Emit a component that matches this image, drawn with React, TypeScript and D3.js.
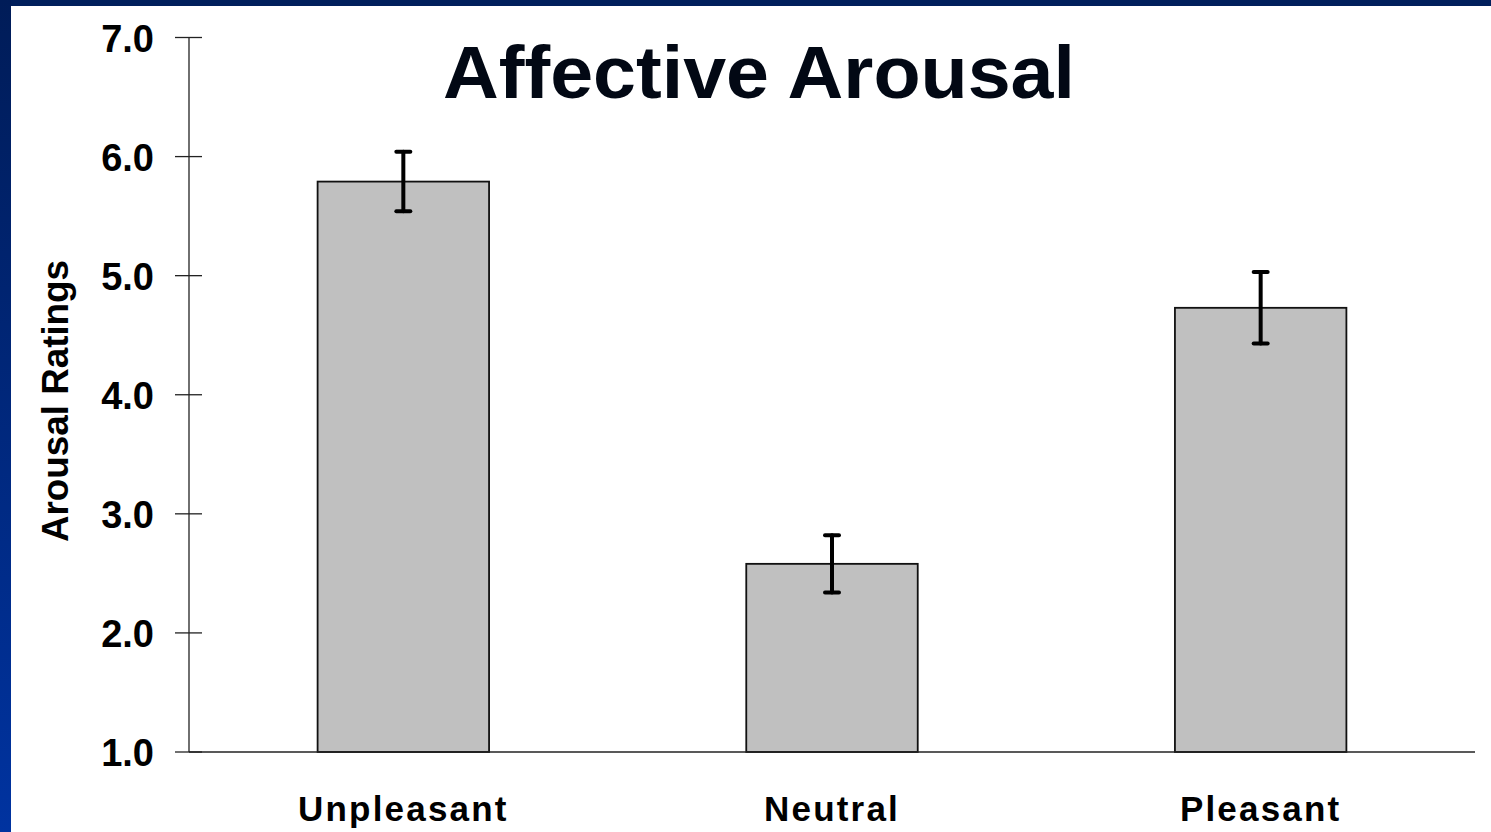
import React, { useEffect, useRef } from 'react';
import * as d3 from 'd3';

const categories = ['Unpleasant', 'Neutral', 'Pleasant'];
const means = [5.79, 2.58, 4.73];
const errors = [0.25, 0.24, 0.30];
const yTicks = [1, 2, 3, 4, 5, 6, 7];

export default function App() {
    const ref = useRef<SVGSVGElement>(null);

    useEffect(() => {
        document.body.style.margin = '0';
        const W = 1491, H = 832;
        const svg = d3.select(ref.current);
        svg.selectAll('*').remove();

        // background + blue frame
        const defs = svg.append('defs');
        const grad = defs.append('linearGradient')
            .attr('id', 'frameGrad').attr('x1', 0).attr('y1', 0).attr('x2', 0).attr('y2', 1);
        grad.append('stop').attr('offset', '0%').attr('stop-color', '#001c58');
        grad.append('stop').attr('offset', '100%').attr('stop-color', '#0033a0');

        svg.append('rect').attr('width', W).attr('height', H).attr('fill', '#ffffff');
        svg.append('rect').attr('x', 0).attr('y', 0).attr('width', W).attr('height', 6).attr('fill', '#001f5c');
        svg.append('rect').attr('x', 0).attr('y', 0).attr('width', 11).attr('height', H).attr('fill', 'url(#frameGrad)');

        const margin = { left: 189, right: 16, top: 37.5, bottom: 80 };
        const x = d3.scaleBand().domain(categories).range([margin.left, W - margin.right]).padding(0);
        const y = d3.scaleLinear().domain([1, 7]).range([H - margin.bottom, margin.top]);
        const barW = x.bandwidth() * 0.4;

        // title
        svg.append('text')
            .attr('x', 759).attr('y', 98)
            .attr('text-anchor', 'middle')
            .attr('font-family', 'Liberation Sans, Arial, sans-serif')
            .attr('font-weight', 'bold')
            .attr('font-size', 75)
            .attr('fill', '#020814')
            .attr('textLength', 632)
            .attr('lengthAdjust', 'spacingAndGlyphs')
            .text('Affective Arousal');

        // bars
        svg.selectAll('.bar')
            .data(means)
            .enter()
            .append('rect')
            .attr('class', 'bar')
            .attr('x', (d, i) => x(categories[i])! + x.bandwidth() / 2 - barW / 2)
            .attr('y', d => y(d))
            .attr('width', barW)
            .attr('height', d => y(1) - y(d))
            .attr('fill', '#c0c0c0')
            .attr('stroke', '#111')
            .attr('stroke-width', 1.8);

        // error bars
        const eb = svg.selectAll('.err')
            .data(means)
            .enter()
            .append('g')
            .attr('class', 'err')
            .attr('stroke', '#000')
            .attr('stroke-width', 4)
            .attr('stroke-linecap', 'round');
        eb.append('line')
            .attr('x1', (d, i) => x(categories[i])! + x.bandwidth() / 2)
            .attr('x2', (d, i) => x(categories[i])! + x.bandwidth() / 2)
            .attr('y1', (d, i) => y(d + errors[i]))
            .attr('y2', (d, i) => y(d - errors[i]));
        [1, -1].forEach(s => {
            eb.append('line')
                .attr('x1', (d, i) => x(categories[i])! + x.bandwidth() / 2 - 7)
                .attr('x2', (d, i) => x(categories[i])! + x.bandwidth() / 2 + 7)
                .attr('y1', (d, i) => y(d + s * errors[i]))
                .attr('y2', (d, i) => y(d + s * errors[i]));
        });

        // axes
        const axisCol = '#222';
        svg.append('line')
            .attr('x1', margin.left).attr('x2', margin.left)
            .attr('y1', y(7)).attr('y2', y(1))
            .attr('stroke', axisCol).attr('stroke-width', 1.3);
        svg.append('line')
            .attr('x1', margin.left).attr('x2', W - margin.right)
            .attr('y1', y(1)).attr('y2', y(1))
            .attr('stroke', axisCol).attr('stroke-width', 1.3);
        svg.selectAll('.tick')
            .data(yTicks)
            .enter()
            .append('line')
            .attr('class', 'tick')
            .attr('x1', 175).attr('x2', 202)
            .attr('y1', d => y(d)).attr('y2', d => y(d))
            .attr('stroke', axisCol).attr('stroke-width', 1.3);
        svg.selectAll('.tickLabel')
            .data(yTicks)
            .enter()
            .append('text')
            .attr('class', 'tickLabel')
            .attr('x', 154)
            .attr('y', d => y(d) + 14)
            .attr('text-anchor', 'end')
            .attr('font-family', 'Liberation Sans, Arial, sans-serif')
            .attr('font-weight', 'bold')
            .attr('font-size', 38)
            .attr('fill', '#000')
            .text(d => d.toFixed(1));

        // category labels
        svg.selectAll('.catLabel')
            .data(categories)
            .enter()
            .append('text')
            .attr('class', 'catLabel')
            .attr('x', d => x(d)! + x.bandwidth() / 2)
            .attr('y', 821)
            .attr('text-anchor', 'middle')
            .attr('font-family', 'Liberation Sans, Arial, sans-serif')
            .attr('font-weight', 'bold')
            .attr('font-size', 35)
            .attr('letter-spacing', 2.2)
            .attr('fill', '#000')
            .text(d => d);

        // y axis title
        svg.append('text')
            .attr('transform', 'translate(68,401) rotate(-90)')
            .attr('text-anchor', 'middle')
            .attr('font-family', 'Liberation Sans, Arial, sans-serif')
            .attr('font-weight', 'bold')
            .attr('font-size', 36)
            .attr('fill', '#000')
            .attr('textLength', 282)
            .attr('lengthAdjust', 'spacingAndGlyphs')
            .text('Arousal Ratings');
    }, []);

    return (
        <svg ref={ref} width={1491} height={832} style={{ display: 'block' }}></svg>
    );
}
